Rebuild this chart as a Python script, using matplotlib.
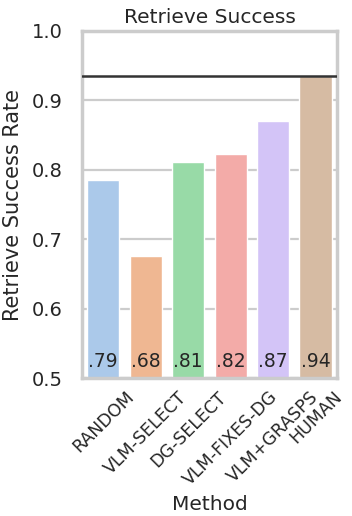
import matplotlib
matplotlib.use("Agg")
import matplotlib.pyplot as plt
import seaborn as sns

methods = ["RANDOM", "VLM-SELECT", "DG-SELECT", "VLM-FIXES-DG", "VLM+GRASPS", "HUMAN"]
success = [0.785, 0.676, 0.812, 0.823, 0.871, 0.935]
human_level = 0.935


def main():
    sns.set_theme(style="whitegrid")
    colors = [sns.desaturate(c, 0.75) for c in sns.color_palette("pastel", len(methods))]

    fig = plt.figure(figsize=(3.52, 5.16), dpi=100)
    ax = fig.add_axes([0.233, 0.267, 0.724, 0.673])

    x = range(len(methods))
    ax.bar(x, success, width=0.76, color=colors, zorder=2)
    ax.axhline(human_level, color="#333333", linewidth=1.8, zorder=3)

    for i, v in enumerate(success):
        ax.text(i, 0.511, f"{v:.2f}".lstrip("0"), ha="center", va="bottom",
                fontsize=13.5, color="#262626", zorder=4)

    ax.set_ylim(0.5, 1.0)
    ax.set_xlim(-0.5, len(methods) - 0.5)
    ax.set_yticks([0.5, 0.6, 0.7, 0.8, 0.9, 1.0])
    ax.set_xticks(list(x))
    ax.set_xticklabels(methods, rotation=45, fontsize=12.5)
    ax.tick_params(axis="x", pad=1)
    ax.tick_params(axis="y", labelsize=14, pad=8)
    ax.grid(axis="x", visible=False)
    ax.grid(axis="y", linewidth=1.6, color="#cccccc", zorder=0)
    for s in ax.spines.values():
        s.set_linewidth(2.5)
        s.set_color("#cccccc")

    ax.set_title("Retrieve Success", fontsize=14.5)
    ax.set_xlabel("Method", fontsize=14.5, labelpad=4)
    ax.set_ylabel("Retrieve Success Rate", fontsize=15, labelpad=6)

    fig.savefig("out.png", dpi=100)


if __name__ == "__main__":
    main()
